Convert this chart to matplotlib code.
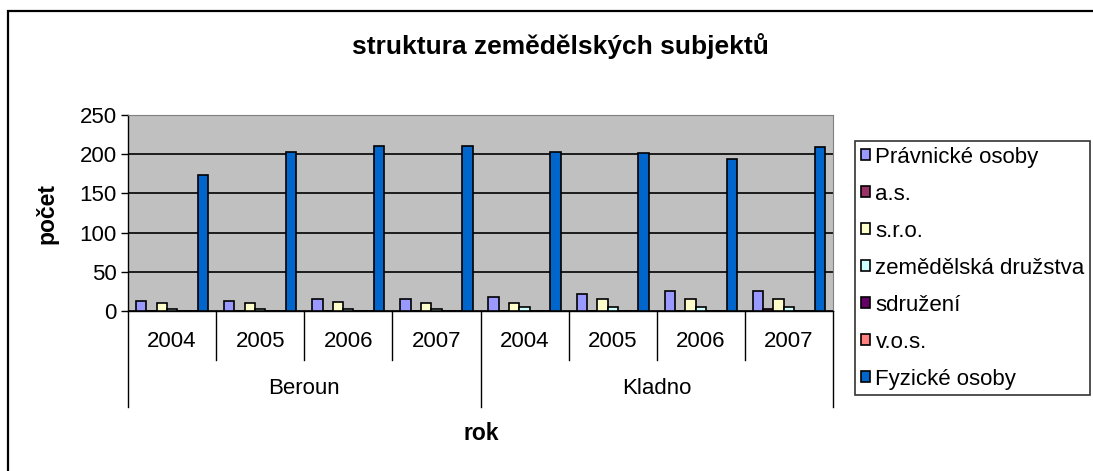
import matplotlib.pyplot as plt
from matplotlib.patches import Rectangle
import matplotlib.transforms as mtransforms

plt.rcParams['font.family'] = ['Liberation Sans', 'DejaVu Sans']

okresy = ['Beroun', 'Kladno']
roky = ['2004', '2005', '2006', '2007']

pravnicke = [13, 13, 15, 15, 18, 22, 25, 25]
a_s = [0, 0, 0, 0, 0, 0, 0, 2]
sro = [10, 10, 12, 10, 10, 15, 15, 15]
druzstva = [2, 2, 2, 2, 5, 5, 5, 5]
sdruzeni = [0, 0, 0, 0, 0, 0, 0, 0]
vos = [0, 0, 0, 0, 0, 0, 0, 0]
fyzicke = [173, 203, 211, 211, 203, 201, 194, 209]

series = [
    ('Právnické osoby', pravnicke, '#9999FF'),
    ('a.s.', a_s, '#993366'),
    ('s.r.o.', sro, '#FFFFCC'),
    ('zemědělská družstva', druzstva, '#CCFFFF'),
    ('sdružení', sdruzeni, '#660066'),
    ('v.o.s.', vos, '#FF8080'),
    ('Fyzické osoby', fyzicke, '#0066CC'),
]


def plot():
    W, H = 1093, 471
    fig = plt.figure(figsize=(W / 100, H / 100), dpi=100)
    ax = fig.add_axes([128 / W, 1 - 311 / H, (833 - 128) / W, (311 - 115) / H])
    ax.set_facecolor('#C0C0C0')

    n = len(series)
    bw = 0.117
    centers = [i + 0.5 for i in range(len(okresy) * len(roky))]
    handles = []
    for k, (name, vals, col) in enumerate(series):
        xs = [c + (k - (n - 1) / 2) * bw for c in centers]
        b = ax.bar(xs, vals, width=bw, color=col, edgecolor='black',
                   linewidth=1.2, label=name, zorder=3)
        handles.append(b)

    ax.set_xlim(0, len(centers))
    ax.set_ylim(0, 250)
    ax.set_yticks(range(0, 251, 50))
    ax.yaxis.grid(True, color='black', linewidth=1.2, zorder=1)
    ax.tick_params(axis='y', labelsize=16, length=5, width=1, direction='out', pad=3)
    ax.set_xticks([])
    for s in ['top', 'right']:
        ax.spines[s].set_color('#808080')
    ax.spines['left'].set_linewidth(1)
    ax.spines['bottom'].set_linewidth(1)

    # category axis (years + districts)
    tr = mtransforms.blended_transform_factory(ax.transData, ax.transAxes)
    ngr = len(roky)
    for i in range(len(centers) + 1):
        low = -0.49 if i % ngr == 0 else -0.25
        ax.plot([i, i], [0, low], color='black', lw=1, transform=tr, clip_on=False)
    for i, c in enumerate(centers):
        ax.text(c, -0.158, roky[i % ngr], transform=tr, ha='center', va='center', fontsize=16)
    for j, o in enumerate(okresy):
        ax.text(j * ngr + ngr / 2, -0.393, o, transform=tr, ha='center', va='center', fontsize=16)

    fig.text(560 / W, 1 - 46 / H, 'struktura zemědělských subjektů', ha='center', va='center',
             fontsize=19, fontweight='bold')
    fig.text(47 / W, 1 - 213 / H, 'počet', ha='center', va='center', rotation=90,
             fontsize=16.5, fontweight='bold')
    fig.text(481 / W, 1 - 433 / H, 'rok', ha='center', va='center',
             fontsize=16.5, fontweight='bold')

    leg = fig.legend(handles=handles, loc='upper left', bbox_to_anchor=(855 / W, 1 - 141 / H),
                     fontsize=16, frameon=True, fancybox=False, edgecolor='black',
                     handlelength=0.42, handleheight=0.42, handletextpad=0.25,
                     labelspacing=0.72, borderpad=0.25, borderaxespad=0)
    leg.get_frame().set_linewidth(1.2)

    # outer chart border
    fig.patches.append(Rectangle((8 / W, -0.2), 1.2, (H - 11) / H + 0.2, transform=fig.transFigure,
                                 fill=False, edgecolor='black', linewidth=1.6))

    fig.savefig('out.png', dpi=100)


def main():
    plot()


main()
